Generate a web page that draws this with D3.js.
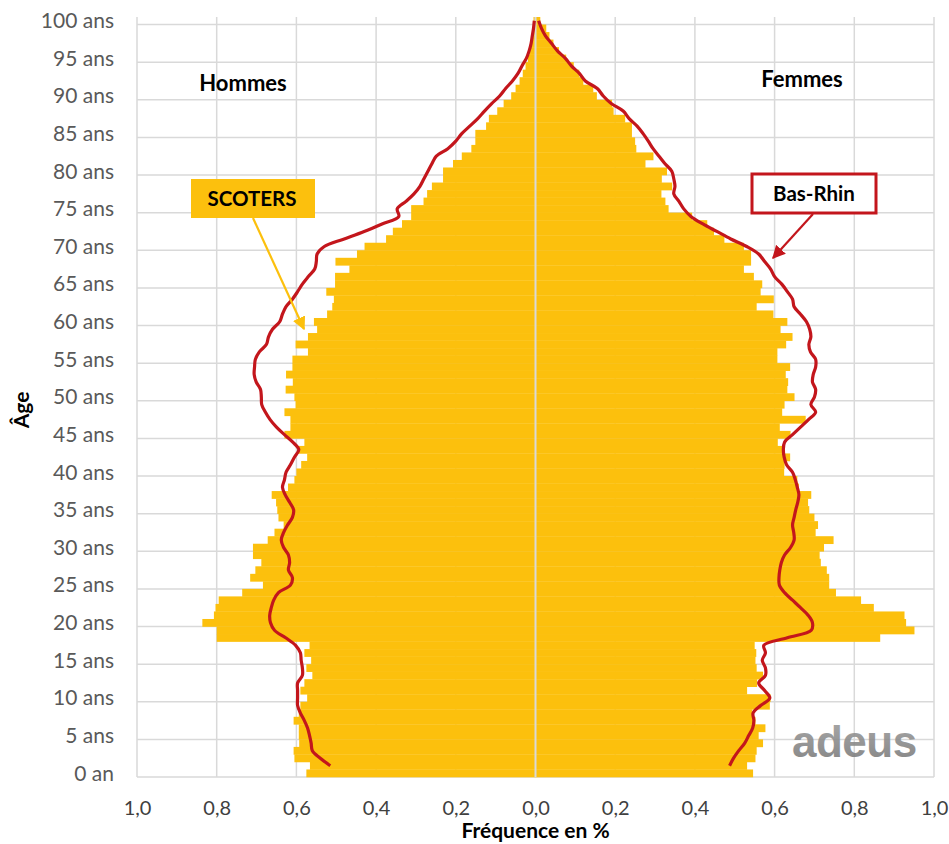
<!DOCTYPE html>
<html><head><meta charset="utf-8">
<script src="https://cdn.jsdelivr.net/npm/d3@7"></script>
<style>
body{margin:0;background:#fff;}
</style></head>
<body><svg id="c" width="949" height="844" font-family="Lato, 'Open Sans', sans-serif"></svg>
<script>
const ages = d3.range(0, 101);
const lineAges = d3.range(1, 101);
const ageTicks = [0,5,10,15,20,25,30,35,40,45,50,55,60,65,70,75,80,85,90,95,100];
const ageTickLabels = ["0 an","5 ans","10 ans","15 ans","20 ans","25 ans","30 ans","35 ans","40 ans","45 ans","50 ans","55 ans","60 ans","65 ans","70 ans","75 ans","80 ans","85 ans","90 ans","95 ans","100 ans"];
const xTicks = [-1,-0.8,-0.6,-0.4,-0.2,0,0.2,0.4,0.6,0.8,1];
const xTickLabels = ["1,0","0,8","0,6","0,4","0,2","0,0","0,2","0,4","0,6","0,8","1,0"];

// SCOTERS (bars), ages 0..100, % of population
const scotersHommes = [0.575,0.566,0.605,0.607,0.593,0.594,0.594,0.607,0.594,0.59,
 0.573,0.59,0.58,0.56,0.575,0.563,0.58,0.567,0.80,0.80,
 0.836,0.807,0.803,0.795,0.736,0.684,0.716,0.703,0.688,0.709,
 0.709,0.672,0.655,0.632,0.645,0.648,0.651,0.662,0.621,0.605,
 0.60,0.588,0.573,0.596,0.58,0.63,0.615,0.615,0.63,0.602,
 0.605,0.627,0.609,0.626,0.61,0.61,0.571,0.602,0.571,0.548,
 0.556,0.523,0.51,0.506,0.525,0.503,0.503,0.467,0.502,0.448,
 0.429,0.375,0.358,0.335,0.312,0.312,0.281,0.272,0.26,0.232,
 0.232,0.207,0.185,0.161,0.151,0.151,0.124,0.117,0.096,0.08,
 0.061,0.05,0.04,0.032,0.025,0.019,0.015,0.011,0.008,0.006,
 0.005];
const scotersFemmes = [0.546,0.531,0.552,0.555,0.571,0.56,0.577,0.552,0.544,0.588,
 0.59,0.531,0.556,0.571,0.555,0.552,0.554,0.55,0.865,0.951,
 0.93,0.926,0.849,0.817,0.754,0.737,0.737,0.731,0.716,0.713,
 0.724,0.748,0.703,0.709,0.70,0.687,0.684,0.692,0.661,0.657,
 0.624,0.625,0.639,0.622,0.608,0.64,0.613,0.678,0.619,0.625,
 0.65,0.632,0.634,0.628,0.639,0.607,0.607,0.629,0.645,0.615,
 0.632,0.597,0.555,0.598,0.565,0.569,0.548,0.523,0.541,0.541,
 0.523,0.474,0.448,0.431,0.393,0.334,0.326,0.316,0.343,0.317,
 0.33,0.276,0.296,0.253,0.25,0.242,0.242,0.225,0.196,0.192,
 0.154,0.145,0.12,0.11,0.096,0.077,0.059,0.045,0.035,0.027,
 0.012];
// Bas-Rhin (lines), ages 1..100
const basRhinHommes = [0.515,0.54,0.56,0.563,0.567,0.572,0.58,0.59,0.597,0.597,
 0.597,0.597,0.585,0.585,0.588,0.59,0.602,0.627,0.655,0.665,
 0.667,0.663,0.657,0.645,0.615,0.61,0.62,0.617,0.62,0.632,
 0.638,0.632,0.622,0.61,0.607,0.617,0.628,0.635,0.63,0.626,
 0.615,0.605,0.594,0.609,0.63,0.65,0.666,0.678,0.687,0.688,
 0.69,0.701,0.706,0.705,0.703,0.693,0.675,0.67,0.66,0.642,
 0.635,0.626,0.61,0.597,0.585,0.57,0.554,0.55,0.548,0.53,
 0.48,0.43,0.385,0.343,0.347,0.325,0.305,0.29,0.28,0.27,
 0.26,0.249,0.22,0.2,0.185,0.165,0.145,0.128,0.11,0.09,
 0.075,0.058,0.044,0.034,0.023,0.016,0.011,0.008,0.005,0.003];
const basRhinFemmes = [0.487,0.497,0.51,0.525,0.535,0.545,0.548,0.546,0.565,0.588,
 0.575,0.56,0.577,0.577,0.569,0.577,0.573,0.632,0.692,0.695,
 0.684,0.665,0.645,0.625,0.612,0.611,0.613,0.617,0.625,0.64,
 0.649,0.648,0.645,0.649,0.653,0.658,0.661,0.657,0.652,0.645,
 0.63,0.624,0.622,0.625,0.645,0.665,0.685,0.703,0.691,0.7,
 0.703,0.695,0.697,0.703,0.703,0.69,0.686,0.691,0.688,0.68,
 0.665,0.649,0.645,0.632,0.618,0.6,0.59,0.575,0.56,0.53,
 0.49,0.455,0.42,0.39,0.372,0.36,0.347,0.35,0.347,0.342,
 0.325,0.31,0.295,0.283,0.27,0.255,0.235,0.22,0.19,0.17,
 0.155,0.125,0.11,0.09,0.075,0.055,0.04,0.025,0.015,0.008];

const BAR = "#FCC00D", RED = "#C3161C", GRID = "#D9D9D9";
const svg = d3.select("#c");
const L = 137, R = 934, T = 17, B = 777;
const x = d3.scaleLinear().domain([-1, 1]).range([L, R]);
const y = d3.scaleBand().domain(ages.slice().reverse()).range([T, B]).padding(0);
const yc = a => y(a) + y.bandwidth() / 2;

// gridlines
svg.append("g").selectAll("line").data(xTicks).join("line")
  .attr("x1", d => x(d)).attr("x2", d => x(d)).attr("y1", T).attr("y2", B)
  .attr("stroke", GRID).attr("stroke-width", 1.5);
svg.append("g").selectAll("line").data(ageTicks).join("line")
  .attr("x1", L).attr("x2", R).attr("y1", d => y(d) + y.bandwidth()).attr("y2", d => y(d) + y.bandwidth())
  .attr("stroke", GRID).attr("stroke-width", 1.5);

// bars
svg.append("g").selectAll("rect").data(ages).join("rect")
  .attr("x", d => x(-scotersHommes[d])).attr("width", d => x(0) - x(-scotersHommes[d]))
  .attr("y", d => y(d)).attr("height", y.bandwidth() + 0.3).attr("fill", BAR);
svg.append("g").selectAll("rect").data(ages).join("rect")
  .attr("x", x(0)).attr("width", d => x(scotersFemmes[d]) - x(0))
  .attr("y", d => y(d)).attr("height", y.bandwidth() + 0.3).attr("fill", BAR);

// centre axis line
svg.append("line").attr("x1", x(0)).attr("x2", x(0)).attr("y1", T).attr("y2", B)
  .attr("stroke", GRID).attr("stroke-width", 2);

// lines
const lineM = d3.line().x((d, i) => x(-d)).y((d, i) => yc(lineAges[i])).curve(d3.curveCatmullRom.alpha(0.5));
const lineF = d3.line().x((d, i) => x(d)).y((d, i) => yc(lineAges[i])).curve(d3.curveCatmullRom.alpha(0.5));
svg.append("path").attr("d", lineM(basRhinHommes)).attr("fill", "none").attr("stroke", RED)
  .attr("stroke-width", 3.2).attr("stroke-linejoin", "round");
svg.append("path").attr("d", lineF(basRhinFemmes)).attr("fill", "none").attr("stroke", RED)
  .attr("stroke-width", 3.2).attr("stroke-linejoin", "round");

// axes
const yAxis = svg.append("g").attr("transform", `translate(${L - 23},0)`)
  .call(d3.axisLeft(y).tickValues(ageTicks).tickFormat(d => ageTickLabels[ageTicks.indexOf(d)]).tickSize(0).tickPadding(0));
yAxis.select(".domain").remove();
yAxis.selectAll("text").style("font-size", "21px").style("font-family", "Lato").attr("fill", "#595959").attr("dy", "0.35em");

const xAxis = svg.append("g").attr("transform", `translate(0,${B})`)
  .call(d3.axisBottom(x).tickValues(xTicks).tickFormat((d, i) => xTickLabels[i]).tickSize(0).tickPadding(0));
xAxis.select(".domain").remove();
xAxis.selectAll("text").style("font-size", "20px").style("font-family", "Lato").attr("fill", "#404040").attr("y", 31).attr("dy", "0.35em");

// axis titles
svg.append("text").attr("x", x(0)).attr("y", 838).attr("text-anchor", "middle")
  .attr("font-size", 21).attr("font-weight", "bold").attr("fill", "#000").text("Fréquence en %");
svg.append("text").attr("transform", "translate(29,410) rotate(-90)").attr("text-anchor", "middle")
  .attr("font-size", 21).attr("font-weight", "bold").attr("fill", "#000").text("Âge");

// sex labels
svg.append("text").attr("x", 243).attr("y", 91).attr("text-anchor", "middle")
  .attr("font-size", 22).attr("font-weight", "bold").text("Hommes");
svg.append("text").attr("x", 802).attr("y", 87).attr("text-anchor", "middle")
  .attr("font-size", 22).attr("font-weight", "bold").text("Femmes");

// markers
const defs = svg.append("defs");
[["arrY", BAR], ["arrR", RED]].forEach(([id, c]) => {
  defs.append("marker").attr("id", id).attr("viewBox", "0 0 10 10").attr("refX", 9).attr("refY", 5)
    .attr("markerWidth", 6).attr("markerHeight", 6).attr("markerUnits", "strokeWidth").attr("orient", "auto")
    .append("path").attr("d", "M0,0 L10,5 L0,10 z").attr("fill", c);
});

// SCOTERS callout
svg.append("line").attr("x1", 253).attr("y1", 218).attr("x2", 304).attr("y2", 329)
  .attr("stroke", BAR).attr("stroke-width", 2.2).attr("marker-end", "url(#arrY)");
svg.append("rect").attr("x", 191).attr("y", 179).attr("width", 124).attr("height", 39).attr("fill", BAR);
svg.append("text").attr("x", 252).attr("y", 206).attr("text-anchor", "middle")
  .attr("font-size", 20.5).attr("font-weight", "bold").attr("fill", "#000").text("SCOTERS");

// Bas-Rhin callout
svg.append("line").attr("x1", 813).attr("y1", 214).attr("x2", 773).attr("y2", 258)
  .attr("stroke", RED).attr("stroke-width", 2.2).attr("marker-end", "url(#arrR)");
svg.append("rect").attr("x", 752).attr("y", 174).attr("width", 124).attr("height", 39)
  .attr("fill", "#fff").attr("stroke", RED).attr("stroke-width", 3);
svg.append("text").attr("x", 814).attr("y", 201).attr("text-anchor", "middle")
  .attr("font-size", 20.5).attr("font-weight", "bold").attr("fill", "#000").text("Bas-Rhin");

// logo
const g = defs.append("linearGradient").attr("id", "logoG").attr("x1", 0).attr("y1", 0).attr("x2", 0).attr("y2", 1);
g.append("stop").attr("offset", "0").attr("stop-color", "#a0a0a0");
g.append("stop").attr("offset", "1").attr("stop-color", "#787878");
svg.append("text").attr("x", 792).attr("y", 757)
  .style("font-family", "'Liberation Sans', Arial, sans-serif")
  .attr("font-size", 44).attr("font-weight", "bold").attr("letter-spacing", -0.5)
  .attr("fill", "url(#logoG)").attr("opacity", 0.9).text("adeus");
</script></body></html>
